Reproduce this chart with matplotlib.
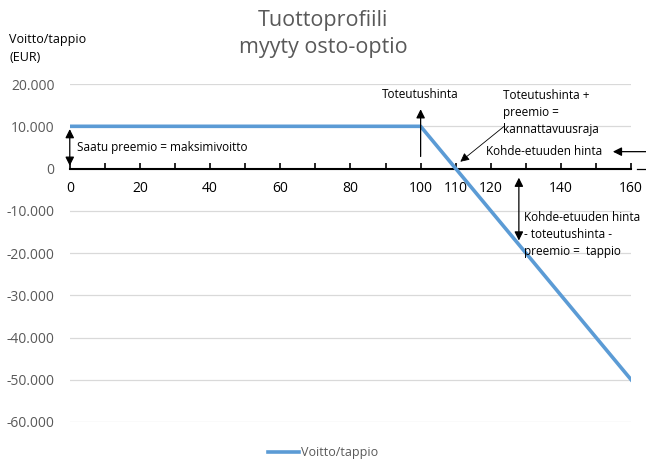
import matplotlib.pyplot as plt
from matplotlib.ticker import FuncFormatter

plt.rcParams['font.family'] = ['Open Sans', 'DejaVu Sans']

# data
hinta = [0, 100, 160]
voitto = [10000, 10000, -50000]
x_ticks = [0, 10, 20, 30, 40, 50, 60, 70, 80, 90, 100, 110, 120, 130, 140, 150, 160]
x_labels = ['0', '', '20', '', '40', '', '60', '', '80', '', '100', '110', '120', '', '140', '', '160']
y_ticks = [-60000, -50000, -40000, -30000, -20000, -10000, 0, 10000, 20000]

grey = '#595959'

fig = plt.figure(figsize=(6.46, 4.75), dpi=100)
ax = fig.add_axes([0.108, 0.1116, 0.869, 0.7114])

ax.plot(hinta, voitto, color='#5B9BD5', lw=2.6, label='Voitto/tappio', zorder=3)

ax.set_xlim(0, 160)
ax.set_ylim(-60000, 20000)
ax.set_yticks(y_ticks)
ax.yaxis.set_major_formatter(FuncFormatter(lambda v, p: f"{v:,.0f}".replace(',', '.')))
ax.set_xticks(x_ticks)
ax.set_xticklabels(x_labels)

ax.grid(axis='y', color='#d9d9d9', lw=0.9)
ax.set_axisbelow(True)
for s in ['left', 'top', 'right']:
    ax.spines[s].set_visible(False)
ax.spines['bottom'].set_position(('data', 0))
ax.spines['bottom'].set_linewidth(1.5)
ax.tick_params(axis='y', length=0, labelsize=10, labelcolor=grey, pad=11)
ax.tick_params(axis='x', direction='in', length=4, width=1.2, labelsize=10,
               labelcolor='black', pad=9)

fig.text(0.5, 0.978, 'Tuottoprofiili\nmyyty osto-optio', ha='center', va='top',
         fontsize=15.5, color=grey, linespacing=1.35)
fig.text(0.014, 0.93, 'Voitto/tappio\n(EUR)', ha='left', va='top', fontsize=9,
         color='black', linespacing=1.5)

arr = dict(arrowstyle='-|>', color='black', lw=0.9, mutation_scale=13)
dbl = dict(arrowstyle='<|-|>', color='black', lw=0.9, mutation_scale=13)

# maksimivoitto
ax.annotate('', xy=(0, 10000), xytext=(0, 0), arrowprops=dbl, annotation_clip=False)
ax.text(2, 5000, 'Saatu preemio = maksimivoitto', fontsize=8.5, va='center')

# toteutushinta
ax.annotate('', xy=(100, 14700), xytext=(100, 2200), arrowprops=arr)
ax.text(100, 17500, 'Toteutushinta', fontsize=8.5, ha='center', va='center')

# kannattavuusraja
ax.annotate('', xy=(110.7, 1200), xytext=(124.4, 10400),
            arrowprops=dict(arrowstyle='-|>', color='black', lw=0.6, mutation_scale=13))
ax.text(123.5, 13200, 'Toteutushinta +\npreemio =\nkannattavuusraja', fontsize=8.5,
        va='center', ha='left', linespacing=1.4)

# kohde-etuuden hinta
ax.annotate('', xy=(154, 4000), xytext=(165, 4000), arrowprops=arr, annotation_clip=False)
ax.text(118.5, 4000, 'Kohde-etuuden hinta', fontsize=8.5, va='center')
ax.plot([161.7, 164.3], [0, 0], color='black', lw=0.9, clip_on=False)

# tappio
ax.annotate('', xy=(128, -17700), xytext=(128, -1500), arrowprops=dbl)
ax.text(129.5, -15500, 'Kohde-etuuden hinta\n- toteutushinta -\npreemio =  tappio',
        fontsize=8.5, va='center', ha='left', linespacing=1.4)

leg = fig.legend(loc='lower center', bbox_to_anchor=(0.5, 0.01), frameon=False,
                 fontsize=9, handlelength=2.5, handletextpad=0.1)
for t in leg.get_texts():
    t.set_color(grey)

fig.savefig('out.png', dpi=100)
